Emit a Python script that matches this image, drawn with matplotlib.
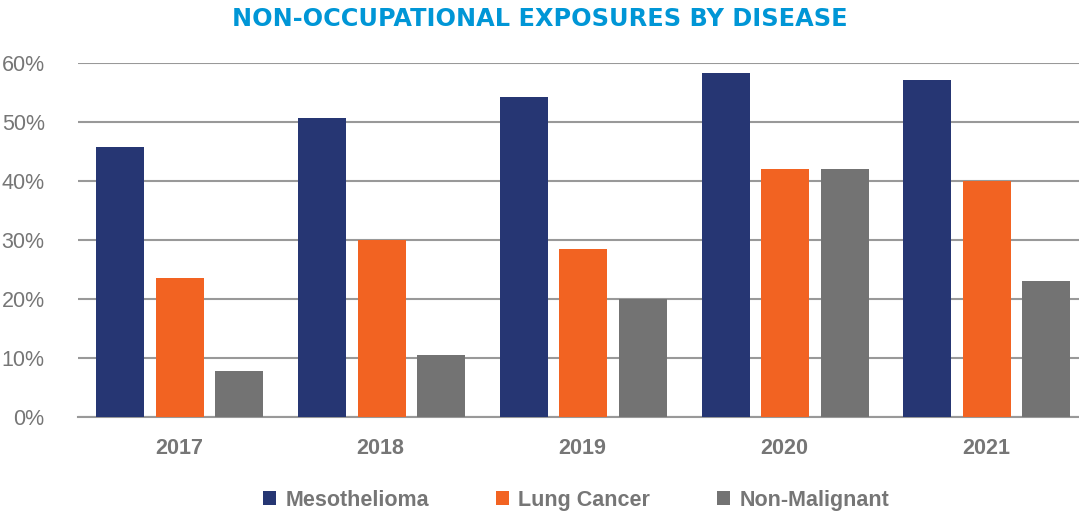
import matplotlib
matplotlib.use("Agg")
import matplotlib.pyplot as plt
import numpy as np
from matplotlib.ticker import FuncFormatter

years = ["2017", "2018", "2019", "2020", "2021"]
series_names = ["Mesothelioma", "Lung Cancer", "Non-Malignant"]
mesothelioma = [45.8, 50.7, 54.2, 58.3, 57.1]
lung_cancer = [23.6, 30.0, 28.5, 42.0, 40.0]
non_malignant = [7.8, 10.5, 20.0, 42.0, 23.0]
colors = ["#263673", "#F26322", "#737373"]

plt.rcParams['font.family'] = ['Liberation Sans', 'DejaVu Sans']

fig = plt.figure(figsize=(10.79, 5.12), dpi=100)
ax = fig.add_axes([0.0723, 0.1855, 0.9349, 0.6915])

x = np.arange(len(years))
width = 0.238
offsets = [-0.29, 0.005, 0.30]
for vals, off, col, name in zip([mesothelioma, lung_cancer, non_malignant], offsets, colors, series_names):
    ax.bar(x + off, vals, width=width, color=col, label=name, zorder=3)

ax.set_xlim(-0.5, len(years) - 0.5)
ax.set_ylim(0, 60)
ax.set_yticks(range(0, 61, 10))
ax.yaxis.set_major_formatter(FuncFormatter(lambda v, p: f"{int(v)}%"))
ax.grid(axis='y', color='#999999', linewidth=1.5, zorder=0)
for s in ['top', 'right', 'left']:
    ax.spines[s].set_visible(False)
ax.spines['bottom'].set_color('#999999')
ax.spines['bottom'].set_linewidth(1.5)
ax.tick_params(axis='both', length=0)
ax.tick_params(axis='y', labelsize=15.5, labelcolor='#767676', pad=24)
ax.set_xticks(x)
ax.set_xticklabels(years, fontsize=15.5, fontweight='bold', color='#767676')
ax.tick_params(axis='x', pad=15)

fig.text(0.5, 0.962, "NON-OCCUPATIONAL EXPOSURES BY DISEASE", ha='center', va='center',
         fontsize=17.3, fontweight='bold', color='#0096D6', family=['DejaVu Sans'])

leg = fig.legend(loc='center', bbox_to_anchor=(0.534, 0.023), ncol=3, frameon=False,
                 handlelength=0.6, handleheight=0.6, columnspacing=3.1,
                 handletextpad=0.45, prop={'weight': 'bold', 'size': 15.5})
for t in leg.get_texts():
    t.set_color('#767676')

fig.savefig("out.png", dpi=100)
